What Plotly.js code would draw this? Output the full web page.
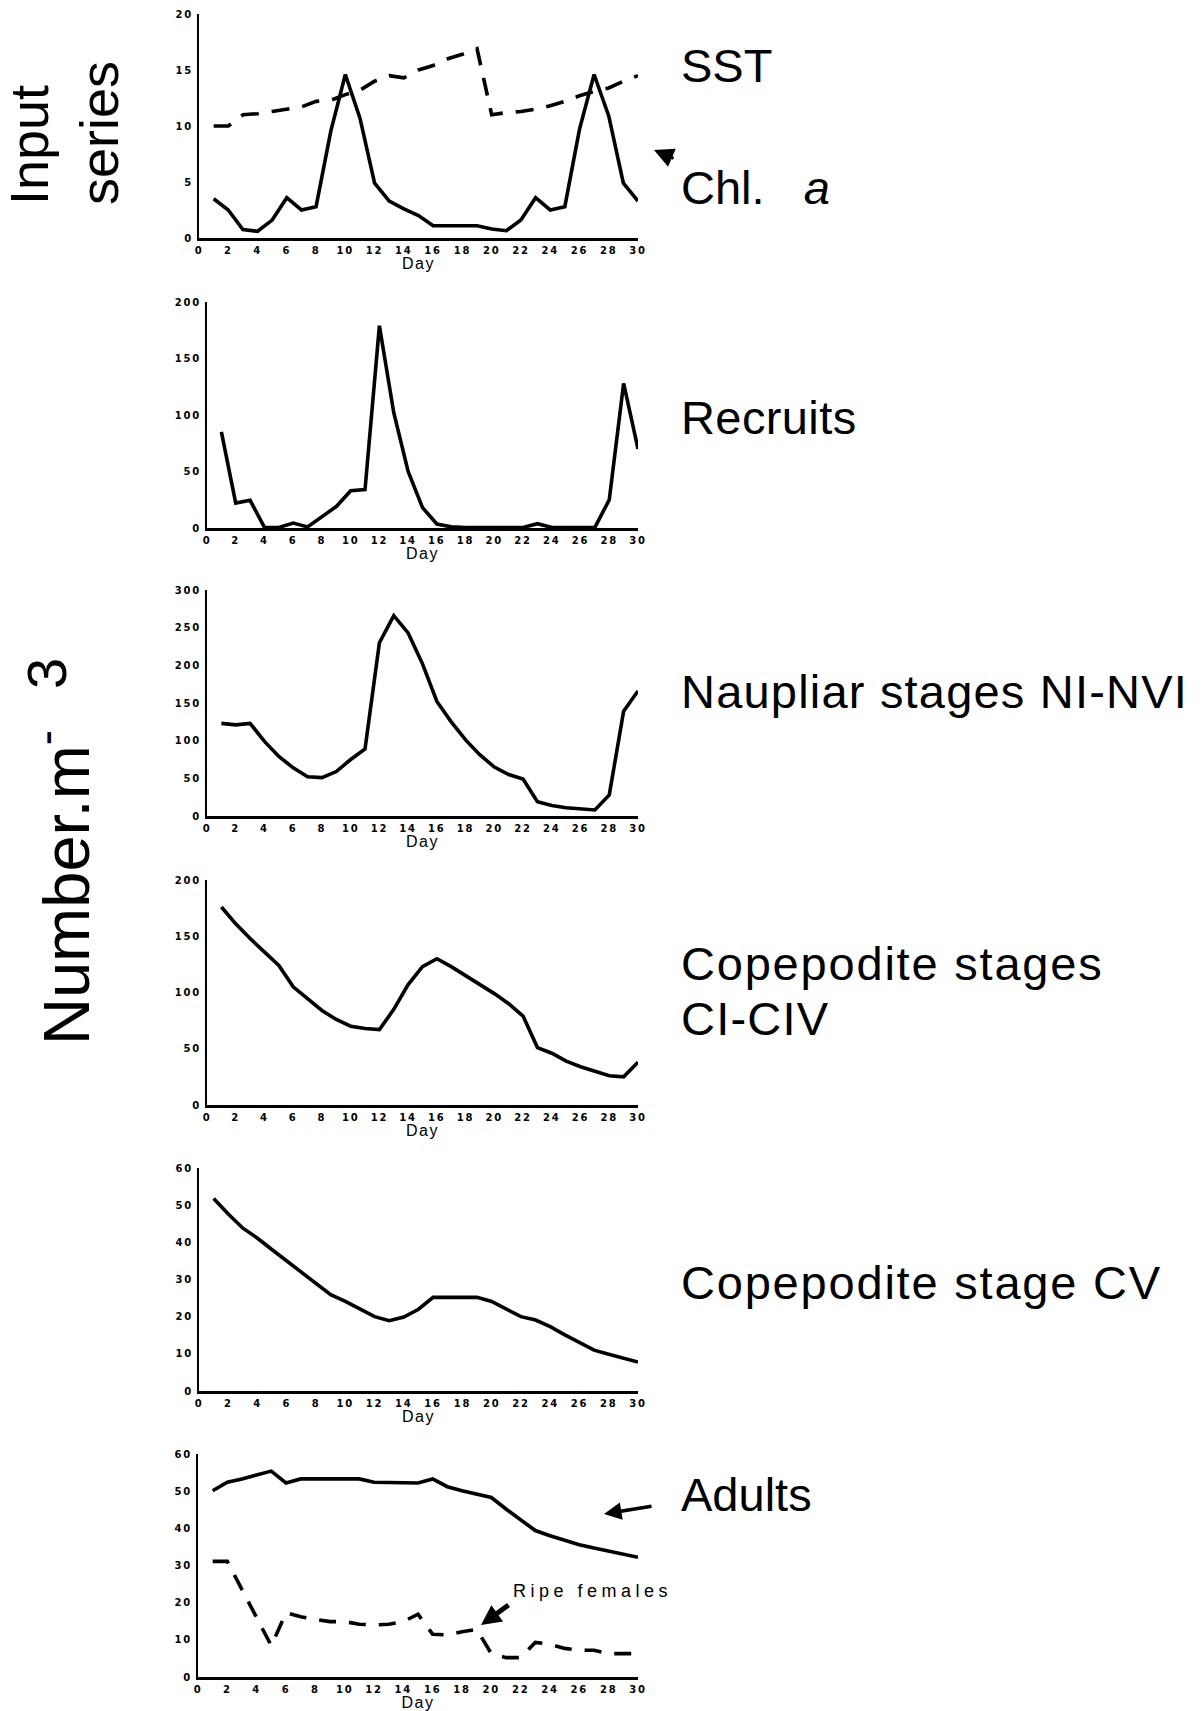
<!DOCTYPE html>
<html>
<head>
<meta charset="utf-8">
<script src="https://cdn.plot.ly/plotly-3.0.1.min.js"></script>
<style>
  html, body { margin: 0; padding: 0; background: #fff; }
  #chart { width: 1204px; height: 1711px; }
</style>
</head>
<body>
<div id="chart"></div>
<script>
// Daily series over one month
const days = [1,2,3,4,5,6,7,8,9,10,11,12,13,14,15,16,17,18,19,20,21,22,23,24,25,26,27,28,29,30];
const dayTicks = [0,2,4,6,8,10,12,14,16,18,20,22,24,26,28,30];

// Input series
const sst   = [10.0,10.0,11.0,11.1,11.3,11.5,11.7,12.2,12.3,12.8,13.2,14.0,14.5,14.3,15.0,15.4,16.0,16.4,16.9,11.0,11.2,11.3,11.5,11.8,12.2,12.7,13.1,13.4,14.0,14.5];
const chlA  = [3.5,2.5,0.75,0.6,1.6,3.6,2.5,2.8,9.5,14.6,10.7,4.9,3.3,2.6,2.0,1.1,1.1,1.1,1.1,0.8,0.65,1.6,3.6,2.5,2.8,9.7,14.6,10.9,4.9,3.3];

// Abundances (Number.m-3)
const recruits         = [85,22,24.5,0.5,0.5,4.4,1,10,19,33,34,179,102,50,18,3.5,1,0.5,0.5,0.5,0.5,0.5,3.8,0.5,0.5,0.5,0.5,25,128,70];
const naupliarStages   = [123,121,123,99,79,64,52,51,59,75,89,230,266,243,202,152,125,101,81,65,55,49,19,14,11,10,8,28,139,166];
const copepoditeCI_CIV = [176,161,148,136,124,105,94,84,76,70,68,67,85,107,123,130,123,115,107,99,90,79,51,46,39,34,30,26,25,38];
const copepoditeCV     = [51.8,47.6,43.8,41.1,38,35,31.9,28.8,25.9,24.1,22,20,18.9,19.9,22,25.2,25.2,25.2,25.2,24.1,22,20,19.1,17.3,15.1,13,11,9.9,8.8,7.8];
const adults           = [50.1,52.4,53.3,54.4,55.4,52.2,53.3,53.3,53.3,53.3,53.3,52.4,52.4,52.4,52.2,53.3,51.2,50.1,49.2,48.3,45.2,42.3,39.4,38,36.7,35.6,34.7,33.8,32.9,32.2];
const ripeFemales      = [31.1,31.1,23.5,15.9,8.4,17.3,16.2,15.5,14.9,14.9,14.2,14.0,14.2,14.9,16.9,11.5,11.3,12.2,12.8,6.3,5.2,5.2,9.3,8.8,7.7,7.2,7.2,6.3,6.3,6.3];

// Y tick values per panel
const ticksInput    = [0,5,10,15,20];
const ticksRecruits = [0,50,100,150,200];
const ticksNauplii  = [0,50,100,150,200,250,300];
const ticksCI_CIV   = [0,50,100,150,200];
const ticksCV       = [0,10,20,30,40,50,60];
const ticksAdults   = [0,10,20,30,40,50,60];

const W = 1204, H = 1711;
const fx = p => p / W;
const fy = p => 1 - p / H;

const SOLID = 'solid';
const SHORT_DASH = '18px,13px';

// plot boxes in page pixels: [left, right, top, bottom]
const panels = [
  { box: [199, 638, 14, 238],   yMax: 20,  yTicks: ticksInput,    lines: [{ y: sst, dash: SHORT_DASH }, { y: chlA, dash: SOLID }] },
  { box: [207, 638, 302, 528],  yMax: 200, yTicks: ticksRecruits, lines: [{ y: recruits, dash: SOLID }] },
  { box: [207, 638, 590, 816],  yMax: 300, yTicks: ticksNauplii,  lines: [{ y: naupliarStages, dash: SOLID }] },
  { box: [207, 638, 880, 1105], yMax: 200, yTicks: ticksCI_CIV,   lines: [{ y: copepoditeCI_CIV, dash: SOLID }] },
  { box: [199, 638, 1168, 1391],yMax: 60,  yTicks: ticksCV,       lines: [{ y: copepoditeCV, dash: SOLID }] },
  { box: [198, 638, 1454, 1677],yMax: 60,  yTicks: ticksAdults,   lines: [{ y: adults, dash: SOLID }, { y: ripeFemales, dash: '17px,13px' }] }
];

const tickLabel = v => '<span style="letter-spacing:1.8px">' + v + '</span>';
const tickFont = { family: 'DejaVu Sans, Arial, sans-serif', size: 10, weight: 'bold', color: '#000' };

const traces = [];
const layout = {
  width: W, height: H,
  margin: { l: 0, r: 0, t: 0, b: 0 },
  paper_bgcolor: '#fff', plot_bgcolor: 'rgba(0,0,0,0)',
  showlegend: false,
  annotations: []
};

panels.forEach((p, i) => {
  const n = i === 0 ? '' : String(i + 1);
  const [x0, x1, yt, yb] = p.box;
  layout['xaxis' + n] = {
    domain: [fx(x0), fx(x1)], anchor: 'y' + n,
    range: [0, 30], fixedrange: true,
    showgrid: false, zeroline: false,
    showline: true, linecolor: '#000', linewidth: 2.5,
    ticks: '', tickvals: dayTicks, ticktext: dayTicks.map(tickLabel),
    tickfont: tickFont, ticklabelstandoff: 1,
    title: { text: '<span style="letter-spacing:1.5px">Day</span>', font: { family: 'Liberation Sans, Arial, sans-serif', size: 16, color: '#000' }, standoff: 2 }
  };
  layout['yaxis' + n] = {
    domain: [fy(yb), fy(yt)], anchor: 'x' + n,
    range: [0, p.yMax], fixedrange: true,
    showgrid: false, zeroline: false,
    showline: true, linecolor: '#000', linewidth: 2,
    ticks: '', tickvals: p.yTicks, ticktext: p.yTicks.map(tickLabel),
    tickfont: tickFont, ticklabelstandoff: 2
  };
  p.lines.forEach(s => {
    traces.push({
      type: 'scatter', mode: 'lines',
      x: days, y: s.y,
      xaxis: 'x' + n, yaxis: 'y' + n,
      line: { color: '#000', width: 3.6, dash: s.dash },
      hoverinfo: 'skip'
    });
  });
});

const bigFont = { family: 'Liberation Sans, Arial, sans-serif', size: 47, color: '#000' };
const spaced = (t, px) => '<span style="letter-spacing:' + px + 'px">' + t + '</span>';
const label = (text, x, y, extra) => Object.assign({
  xref: 'paper', yref: 'paper', x: fx(x), y: fy(y),
  xanchor: 'left', yanchor: 'middle', showarrow: false,
  text: text, font: bigFont, align: 'left'
}, extra || {});

layout.annotations.push(
  label('SST', 679, 66),
  label('Chl.\u00a0\u00a0\u00a0<i>a</i>', 679, 187),
  label(spaced('Recruits', 0.4), 679, 418),
  label(spaced('Naupliar stages NI-NVI', 1.2), 679, 691),
  label(spaced('Copepodite stages', 1.8), 679, 964),
  label(spaced('CI-CIV', 1.2), 679, 1018),
  label(spaced('Copepodite stage CV', 1.8), 679, 1282),
  label('Adults', 679, 1494),
  label(spaced('Ripe females', 4.5), 511, 1591,
        { font: { family: 'Liberation Sans, Arial, sans-serif', size: 18, color: '#000' } }),
  // left-hand titles
  label('Input<br>series', 64, 133,
        { xanchor: 'center', textangle: -90, font: { family: 'Liberation Sans, Arial, sans-serif', size: 54, color: '#000' } }),
  label('Number.m<sup>-</sup>', 62, 888,
        { xanchor: 'center', textangle: -90, font: { family: 'Liberation Sans, Arial, sans-serif', size: 65, color: '#000' } }),
  label('3', 46, 674,
        { xanchor: 'center', textangle: -90, font: { family: 'Liberation Sans, Arial, sans-serif', size: 56, color: '#000' } })
);

// pointer arrows: tip at (x, y), tail offset by (ax, ay) pixels
const pointer = (x, y, ax, ay, w, s) => ({
  xref: 'paper', yref: 'paper', x: fx(x), y: fy(y),
  text: '', showarrow: true, arrowhead: 2, arrowsize: s, arrowwidth: w,
  arrowcolor: '#000', ax: ax, ay: ay, standoff: 0
});
layout.annotations.push(
  pointer(654, 150, 21, 9, 3, 1.3),
  pointer(604, 1514, 49, -8, 3.5, 1.0),
  pointer(481, 1625, 29, -21, 5, 0.8)
);

Plotly.newPlot('chart', traces, layout, { staticPlot: true, displayModeBar: false });
</script>
</body>
</html>
